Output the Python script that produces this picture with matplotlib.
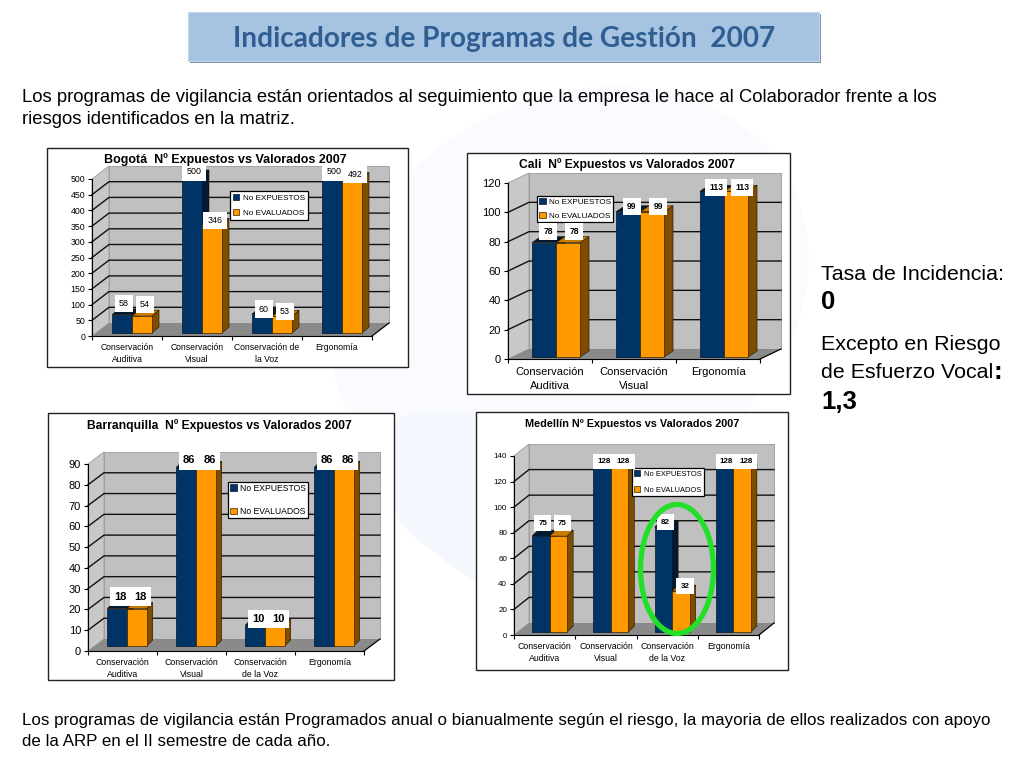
import matplotlib
matplotlib.use('Agg')
import matplotlib.pyplot as plt
from matplotlib.patches import Polygon, Rectangle, Ellipse

plt.rcParams['font.family'] = ['Liberation Sans', 'DejaVu Sans']

W, H = 1024, 768
series_names = ['No EXPUESTOS', 'No EVALUADOS']

# values
bog_cats = ['Conservación\nAuditiva', 'Conservación\nVisual', 'Conservación de\nla Voz', 'Ergonomía']
bog_exp = [58, 500, 60, 500]
bog_eva = [54, 346, 53, 492]
bog_ticks = list(range(0, 501, 50))

cali_cats = ['Conservación\nAuditiva', 'Conservación\nVisual', 'Ergonomía']
cali_exp = [78, 99, 113]
cali_eva = [78, 99, 113]
cali_ticks = list(range(0, 121, 20))

baq_cats = ['Conservación\nAuditiva', 'Conservación\nVisual', 'Conservación\nde la Voz', 'Ergonomía']
baq_exp = [18, 86, 10, 86]
baq_eva = [18, 86, 10, 86]
baq_ticks = list(range(0, 91, 10))

med_cats = ['Conservación\nAuditiva', 'Conservación\nVisual', 'Conservación\nde la Voz', 'Ergonomía']
med_exp = [75, 128, 82, 128]
med_eva = [75, 128, 32, 128]
med_ticks = list(range(0, 141, 20))

NAVY, NAVY_DK = '#003366', '#001a33'
ORANGE, ORANGE_SIDE, ORANGE_TOP = '#ff9900', '#7f4d00', '#cc7a00'
WALL, FLOOR = '#c0c0c0', '#8a8a8a'

fig = plt.figure(figsize=(W / 100, H / 100), dpi=100)
page = fig.add_axes([0, 0, 1, 1], zorder=0)
page.set_xlim(0, W)
page.set_ylim(H, 0)
page.axis('off')

# faint watermark behind the slide
page.add_patch(Ellipse((570, 300), 500, 400, angle=-30, fc='#f9fbfe', ec='none'))
page.add_patch(Ellipse((560, 530), 420, 170, angle=25, fc='#f4f7fd', ec='none'))

# top layer, used for chart titles and the ring
top = fig.add_axes([0, 0, 1, 1], zorder=5)
top.set_xlim(0, W)
top.set_ylim(H, 0)
top.axis('off')

# title banner
page.add_patch(Rectangle((190, 14), 631, 49, fc='#7f8fa3', ec='none'))
page.add_patch(Rectangle((188, 12), 631, 49, fc='#a6c3e2', ec='#c5d6ea', lw=0.8))
page.text(504, 39, 'Indicadores de Programas de Gestión  2007', ha='center', va='center',
          family='Lato', weight='bold', fontsize=20.2, color='#2f5f92')

page.text(22, 98, 'Los programas de vigilancia están orientados al seguimiento que la empresa le hace al Colaborador frente a los',
          va='center', fontsize=13.35)
page.text(22, 120, 'riesgos identificados en la matriz.', va='center', fontsize=13.35)
page.text(22, 721, 'Los programas de vigilancia están Programados anual o bianualmente según el riesgo, la mayoria de ellos realizados con apoyo',
          va='center', fontsize=12.17)
page.text(22, 742, 'de la ARP en el II semestre de cada año.', va='center', fontsize=12.17)

page.text(821, 275, 'Tasa de Incidencia:', va='center', fontsize=15.4)
page.text(821, 302, '0', va='center', fontsize=18.5, weight='bold')
page.text(821, 344, 'Excepto en Riesgo', va='center', fontsize=15.4)
page.text(821, 372, 'de Esfuerzo Vocal', va='center', fontsize=15.4)
page.text(994, 372, ':', va='center', fontsize=18.5, weight='bold')
page.text(821, 402, '1,3', va='center', fontsize=18.5, weight='bold')


def chart(cats, exp, eva, ticks, title, box, front, back, off, bar_d, legend_box, leg_fmt,
          title_y, title_fs, tick_fs, cat_fs, cat_pad, lab_fs, lab_up, lab_dx, lab_weight='normal'):
    # front = (x0, y0, x1, y_top), back = (dx, dy) in pixels
    x0, y0, x1, ytop = front
    page.add_patch(Rectangle((box[0], box[1]), box[2] - box[0], box[3] - box[1],
                             fc='white', ec='#222222', lw=1.0))
    top.text(title[1], title_y, title[0], ha='center', va='center', fontsize=title_fs, weight='bold')

    ax = fig.add_axes([x0 / W, 1 - y0 / H, (x1 - x0) / W, (y0 - ytop) / H], zorder=2)
    ymax = ticks[-1]
    n = len(cats)
    ax.set_xlim(0, n)
    ax.set_ylim(0, ymax)
    ax.patch.set_visible(False)
    sx = n / (x1 - x0)
    sy = ymax / (y0 - ytop)
    dx, dy = back[0] * sx, back[1] * sy

    # walls and floor
    ax.add_patch(Polygon([(dx, dy), (n + dx, dy), (n + dx, ymax + dy), (dx, ymax + dy)],
                         fc=WALL, ec='#999999', lw=0.6, clip_on=False, zorder=1))
    ax.add_patch(Polygon([(0, 0), (dx, dy), (dx, ymax + dy), (0, ymax)],
                         fc='#c8c8c8', ec='#999999', lw=0.6, clip_on=False, zorder=1))
    ax.add_patch(Polygon([(0, 0), (n, 0), (n + dx, dy), (dx, dy)],
                         fc=FLOOR, ec='none', clip_on=False, zorder=1))
    ax.plot([n, n + dx], [0, dy], color='black', lw=0.9, clip_on=False, zorder=1.5)
    for t in ticks[1:-1]:
        ax.plot([0, dx, n + dx], [t, t + dy, t + dy], color='#111111', lw=1.0,
                clip_on=False, zorder=1.5)

    # bars
    w = 0.286
    ox, oy = off[0] * sx, off[1] * sy
    bdx, bdy = bar_d[0] * sx, bar_d[1] * sy
    pos = [i + 0.5 + ox for i in range(n)]
    b1 = ax.bar([p - w / 2 for p in pos], exp, w, bottom=oy, color=NAVY, edgecolor='#00152b',
                lw=0.5, clip_on=False, zorder=3, label=series_names[0])
    b2 = ax.bar([p + w / 2 for p in pos], eva, w, bottom=oy, color=ORANGE, edgecolor='#3a2500',
                lw=0.5, clip_on=False, zorder=4, label=series_names[1])
    for bars, side, roof, z in ((b1, NAVY_DK, NAVY_DK, 2.9), (b2, ORANGE_SIDE, ORANGE_TOP, 3.9)):
        for r in bars:
            l, b, bw, bh = r.get_x(), r.get_y(), r.get_width(), r.get_height()
            ax.add_patch(Polygon([(l + bw, b), (l + bw + bdx, b + bdy), (l + bw + bdx, b + bh + bdy), (l + bw, b + bh)],
                                 fc=side, ec='#1a1000', lw=0.4, clip_on=False, zorder=z))
            ax.add_patch(Polygon([(l, b + bh), (l + bdx, b + bh + bdy), (l + bw + bdx, b + bh + bdy), (l + bw, b + bh)],
                                 fc=roof, ec='#1a1000', lw=0.4, clip_on=False, zorder=z))

    # value labels
    for i, p in enumerate(pos):
        for xp, v, shift in ((p - w / 2, exp[i], lab_dx[0]), (p + w / 2, eva[i], lab_dx[1])):
            ax.text(xp + shift * sx, v + oy + lab_up[i] * sy, str(v), ha='center', va='center',
                    fontsize=lab_fs, weight=lab_weight, zorder=6, clip_on=False,
                    bbox=dict(fc='white', ec='none', pad=3))

    # axes
    for s in ('top', 'right'):
        ax.spines[s].set_visible(False)
    ax.set_yticks(ticks)
    ax.tick_params(axis='y', labelsize=tick_fs, length=3, width=0.8, pad=2)
    ax.set_xticks(range(n + 1))
    ax.set_xticklabels([])
    ax.set_xticks([i + 0.5 for i in range(n)], minor=True)
    ax.set_xticklabels(cats, minor=True, fontsize=cat_fs, linespacing=1.45)
    ax.tick_params(axis='x', which='major', length=3, width=0.8)
    ax.tick_params(axis='x', which='minor', length=0, pad=cat_pad)

    lx, ly = legend_box
    fs, spacing, pad = leg_fmt
    leg = ax.legend(loc='upper left', bbox_to_anchor=(lx / W, 1 - ly / H), bbox_transform=fig.transFigure,
                    fontsize=fs, frameon=True, fancybox=False, framealpha=1, edgecolor='black',
                    handlelength=0.8, handleheight=0.8, handletextpad=0.45, borderpad=pad,
                    labelspacing=spacing, borderaxespad=0)
    leg.set_zorder(5)
    leg.get_frame().set_linewidth(0.9)
    return ax


chart(bog_cats, bog_exp, bog_eva, bog_ticks, ('Bogotá  Nº Expuestos vs Valorados 2007', 225.5),
      (47, 148, 408, 367), (92, 336, 372, 179), (17, 13), (5, 3), (7, 6), (230, 191), (5.9, 0.85, 0.35),
      160, 9.0, 6.3, 6.2, 5, 6.4, [11.5, 4, 5, 4], (2, 3))
chart(cali_cats, cali_exp, cali_eva, cali_ticks, ('Cali  Nº Expuestos vs Valorados 2007', 627),
      (467, 153, 790, 394), (508, 359, 760, 183), (21, 10), (6, 2), (9, 6), (537, 196), (5.9, 0.7, 0.25),
      165, 8.7, 8.0, 8.0, 6, 6.2, [11, 5, 4], (4, 6), lab_weight='bold')
chart(baq_cats, baq_exp, baq_eva, baq_ticks, ('Barranquilla  Nº Expuestos vs Valorados 2007', 219.5),
      (48, 413, 394, 680), (88, 651, 364, 464), (16, 12), (4.5, 5), (6, 6), (228, 482), (6.2, 1.67, 0.2),
      426, 8.75, 8.0, 6.3, 5, 8.0, [12, 7, 6, 7], (3, 4), lab_weight='bold')
chart(med_cats, med_exp, med_eva, med_ticks, ('Medellín Nº Expuestos vs Valorados 2007', 632),
      (476, 412, 788, 670), (514, 635, 759, 456), (15, 12), (5, 3), (6, 6), (632, 468), (5.4, 1.1, 0.32),
      424, 7.85, 5.8, 6.3, 5, 5.8, [13, 7, 5, 7], (2, 4), lab_weight='bold')

# green ring around the voice programme in Medellin
top.add_patch(Ellipse((677, 569), 73, 129, fc='none', ec='#22e02a', lw=3.8))

fig.savefig('out.png', dpi=100)
